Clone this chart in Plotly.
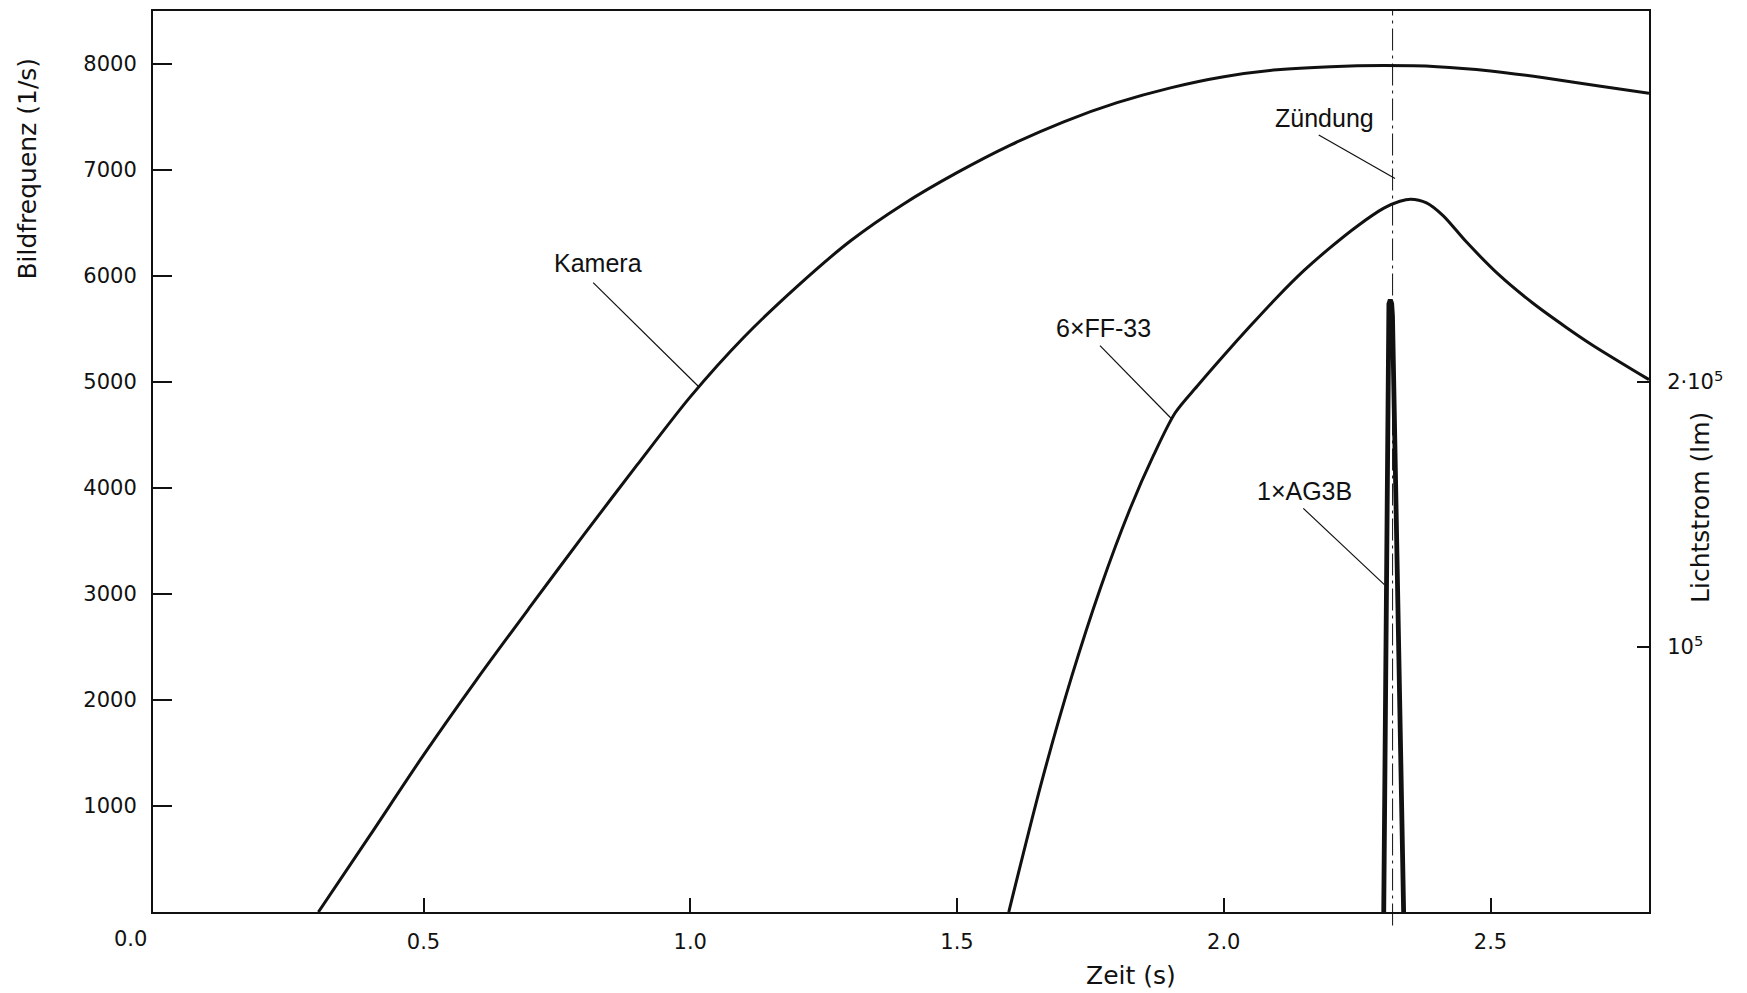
import plotly.graph_objects as go

# ---------------- data ----------------
# Kamera: Bildfrequenz (1/s) vs Zeit (s)  -> left axis
KAMERA_T = [0.303, 0.4, 0.5, 0.6, 0.7, 0.8, 0.9, 1.0, 1.1, 1.2, 1.3, 1.4, 1.5,
            1.6, 1.7, 1.8, 1.9, 2.0, 2.1, 2.2, 2.3, 2.4, 2.5, 2.6, 2.7, 2.797]
KAMERA_F = [0, 725, 1480, 2195, 2880, 3555, 4215, 4860, 5420, 5900, 6330, 6680, 6975,
            7235, 7455, 7635, 7775, 7880, 7945, 7975, 7985, 7975, 7935, 7870, 7795, 7725]

# 6xFF-33: Lichtstrom (lm) vs Zeit (s) -> right axis
FF33_T = [1.597, 1.659, 1.715, 1.769, 1.824, 1.868, 1.909, 1.950, 2.000, 2.050,
          2.100, 2.150, 2.200, 2.250, 2.300, 2.330, 2.350, 2.380, 2.411, 2.455,
          2.517, 2.579, 2.642, 2.692, 2.797]
FF33_LM = [0, 49400, 88900, 122400, 152000, 172200, 188400, 198400, 210000, 221200,
           232000, 242000, 250800, 258800, 265600, 268200, 269000, 267600, 262800, 252800,
           240200, 229800, 220600, 213800, 200900]

# 1xAG3B: Lichtstrom (lm) vs Zeit (s) -> right axis
AG3B_T = [2.2998, 2.3080, 2.3095, 2.3121, 2.3147, 2.3162, 2.3371]
AG3B_LM = [0, 225000, 229500, 231000, 229500, 225000, 0]

ZUENDUNG_T = 2.3164

# axis ticks
X_TICKS = [0.5, 1.0, 1.5, 2.0, 2.5]
X_TICK_LABELS = ["0.5", "1.0", "1.5", "2.0", "2.5"]
Y_TICKS = [1000, 2000, 3000, 4000, 5000, 6000, 7000, 8000]
Y_TICK_LABELS = ["1000", "2000", "3000", "4000", "5000", "6000", "7000", "8000"]
Y2_TICKS = [100000, 200000]
Y2_TICK_LABELS = ["10<sup>5</sup>", "2·10<sup>5</sup>"]

X_RANGE = [-0.007, 2.797]
Y_RANGE = [0, 8500]
Y2_RANGE = [0, 340000]

# labels: (text, text_x, text_y, leader_start_x, leader_start_y, leader_end_x, leader_end_y) in left-axis units
LABELS = [
    ("Kamera", 0.828, 6118, 0.818, 5937, 1.015, 4960),
    ("Zündung", 2.188, 7486, 2.178, 7330, 2.321, 6920),
    ("6×FF-33", 1.774, 5505, 1.768, 5343, 1.902, 4653),
    ("1×AG3B", 2.152, 3973, 2.149, 3808, 2.301, 3089),
]

TICK_FONT = dict(family="DejaVu Sans, Liberation Sans, Arial", size=21, color="#111")
TITLE_FONT = dict(family="DejaVu Sans, Liberation Sans, Arial", size=25, color="#111")
LABEL_FONT = dict(family="Liberation Sans, Arial", size=25, color="#111")

fig = go.Figure()

fig.add_trace(go.Scatter(x=KAMERA_T, y=KAMERA_F, mode="lines", name="Kamera",
                         line=dict(color="#111", width=3, shape="spline", smoothing=0.8),
                         yaxis="y"))
fig.add_trace(go.Scatter(x=FF33_T, y=FF33_LM, mode="lines", name="6×FF-33",
                         line=dict(color="#111", width=3, shape="spline", smoothing=0.8),
                         yaxis="y2"))
fig.add_trace(go.Scatter(x=AG3B_T, y=AG3B_LM, mode="lines", name="1×AG3B",
                         line=dict(color="#111", width=4.8),
                         yaxis="y2"))

shapes = [
    dict(type="line", xref="x", yref="paper", x0=ZUENDUNG_T, x1=ZUENDUNG_T,
         y0=-0.015, y1=1.0, line=dict(color="#111", width=1, dash="22px,5px,3px,5px"))
]
annotations = []
for text, tx, ty, sx, sy, ex, ey in LABELS:
    annotations.append(dict(x=tx, y=ty, xref="x", yref="y", text=text, showarrow=False,
                            font=LABEL_FONT, xanchor="center", yanchor="middle"))
    shapes.append(dict(type="line", xref="x", yref="y", x0=sx, y0=sy, x1=ex, y1=ey,
                       line=dict(color="#111", width=1.2)))

annotations += [
    dict(x=0, y=0, xref="x", yref="paper", text="0.0", showarrow=False, font=TICK_FONT,
         xanchor="center", yanchor="middle", xshift=-26, yshift=-27),
    dict(x=-0.0836, y=0.825, xref="paper", yref="paper", text="Bildfrequenz (1/s)",
         showarrow=False, font=TITLE_FONT, textangle=-90, xanchor="center", yanchor="middle"),
    dict(x=1.0348, y=0.4485, xref="paper", yref="paper", text="Lichtstrom (lm)",
         showarrow=False, font=TITLE_FONT, textangle=-90, xanchor="center", yanchor="middle"),
    dict(x=0.6537, y=-0.0709, xref="paper", yref="paper", text="Zeit (s)",
         showarrow=False, font=TITLE_FONT, xanchor="center", yanchor="middle"),
]

fig.update_layout(
    width=1747, height=993,
    margin=dict(l=153, r=98, t=9, b=81),
    paper_bgcolor="white", plot_bgcolor="white",
    showlegend=False,
    shapes=shapes,
    annotations=annotations,
    xaxis=dict(range=X_RANGE, tickvals=X_TICKS, ticktext=X_TICK_LABELS,
               showgrid=False, zeroline=False, showline=True, linecolor="#111", linewidth=2,
               mirror=True, ticks="inside", ticklen=14, tickwidth=1.5, tickcolor="#111",
               tickfont=TICK_FONT, ticklabelstandoff=10),
    yaxis=dict(range=Y_RANGE, tickvals=Y_TICKS, ticktext=Y_TICK_LABELS,
               showgrid=False, zeroline=False, showline=True, linecolor="#111", linewidth=2,
               ticks="inside", ticklen=19, tickwidth=1.5, tickcolor="#111",
               tickfont=TICK_FONT, ticklabelstandoff=10),
    yaxis2=dict(range=Y2_RANGE, tickvals=Y2_TICKS, ticktext=Y2_TICK_LABELS,
                overlaying="y", side="right",
                showgrid=False, zeroline=False, showline=True, linecolor="#111", linewidth=2,
                ticks="inside", ticklen=12, tickwidth=1.5, tickcolor="#111",
                tickfont=TICK_FONT, ticklabelstandoff=12),
)

fig.write_html("out.html")
